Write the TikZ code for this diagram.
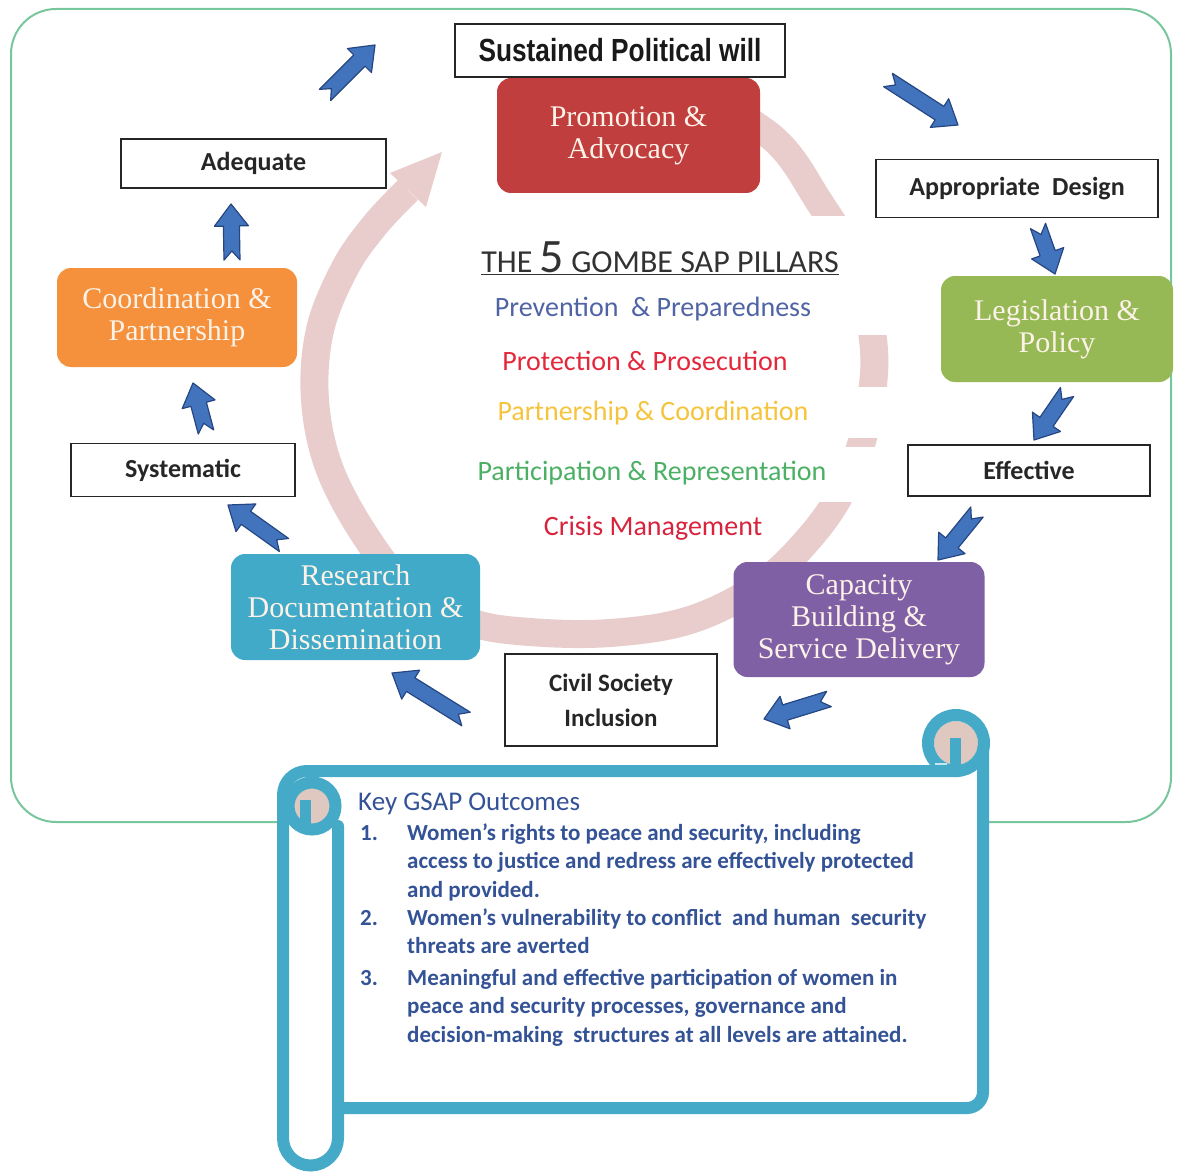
\documentclass[tikz,border=0pt]{standalone}
\usepackage{fontspec}
\setmainfont{Liberation Serif}
\newfontfamily\calibri{Carlito}
\newfontfamily\arialnarrow[FakeStretch=0.82]{Liberation Sans}
\usetikzlibrary{calc}
\definecolor{promored}{RGB}{192,62,62}
\definecolor{coordorange}{RGB}{245,145,60}
\definecolor{legisgreen}{RGB}{150,185,85}
\definecolor{researchteal}{RGB}{65,170,200}
\definecolor{capacpurple}{RGB}{128,96,165}
\definecolor{boxtext}{RGB}{252,242,232}
\definecolor{ringpink}{RGB}{233,205,205}
\definecolor{arrowfill}{RGB}{66,116,190}
\definecolor{arrowline}{RGB}{38,70,130}
\definecolor{bordergreen}{RGB}{120,198,155}
\definecolor{scrollcol}{RGB}{68,170,200}
\definecolor{curlfill}{RGB}{222,200,192}
\definecolor{outcol}{RGB}{52,82,150}
\definecolor{titlegray}{RGB}{50,50,50}
\definecolor{prevcol}{RGB}{80,100,165}
\definecolor{protcol}{RGB}{228,40,60}
\definecolor{partcol}{RGB}{245,195,60}
\definecolor{particol}{RGB}{75,175,100}
\definecolor{crisiscol}{RGB}{215,35,60}
\newcommand{\blockarr}[2]{%
  \draw[blockarrow] ($(#1)!8pt!90:(#2)$) -- ($(#2)!22pt!(#1)!8pt!-90:(#1)$)
    -- ($(#2)!22pt!(#1)!17pt!-90:(#1)$) -- (#2)
    -- ($(#2)!22pt!(#1)!17pt!90:(#1)$) -- ($(#2)!22pt!(#1)!8pt!90:(#1)$)
    -- ($(#1)!8pt!-90:(#2)$) -- ($(#1)!9pt!(#2)$) -- cycle;}
\begin{document}
\begin{tikzpicture}[x=1pt,y=-1pt,
  pillar/.style={rounded corners=14pt, text=boxtext, font=\fontsize{30}{32}\selectfont, align=center, inner sep=0pt},
  lbl/.style={draw=black!85, line width=1.8pt, fill=white, text=black!85, font=\calibri\bfseries\fontsize{26}{35}\selectfont, align=center, inner sep=0pt},
  blockarrow/.style={fill=arrowfill, draw=arrowline, line width=1.2pt, line join=round},
  scroll/.style={draw=scrollcol, line width=12pt, line cap=round},
  pill/.style={font=\calibri\fontsize{28}{30}\selectfont, inner sep=0pt},
  outtxt/.style={text=outcol, font=\calibri\bfseries\fontsize{23}{28}\selectfont, inner sep=0pt, anchor=base west},
  outtitle/.style={text=outcol, font=\calibri\fontsize{27}{30}\selectfont, inner sep=0pt, anchor=base west}]
\useasboundingbox (0,0) rectangle (1177,1174);
% outer frame
\draw[bordergreen, line width=2pt, rounded corners=45pt] (11,9) rectangle (1171,822);
% circular arrow
\draw[ringpink, line width=28pt] plot[smooth, tension=0.6] coordinates {
 (700,92) (775,140) (818,200) (855,265) (874,350) (866,425) (845,485) (812,535)
 (760,585) (690,620) (610,633) (530,632) (470,622) (410,590) (368,540) (330,470)
 (315,400) (320,330) (345,268) (375,225) (408,190)};
\fill[ringpink] (426,207) -- (442,152) -- (390,173) -- cycle;
\fill[white] (790,216) rectangle (900,335);
\fill[white] (790,387) rectangle (900,438);
\fill[white] (790,447) rectangle (900,502);
% pillar boxes
\node[pillar, fill=promored, minimum width=263pt, minimum height=115pt] (promo) at (628.5,135.5) {Promotion \&\\Advocacy};
\node[pillar, fill=coordorange, minimum width=240pt, minimum height=99pt] (coord) at (177,317.5) {Coordination \&\\Partnership};
\node[pillar, fill=legisgreen, minimum width=232pt, minimum height=106pt] (legis) at (1057,329) {Legislation \&\\Policy};
\node[pillar, fill=researchteal, minimum width=249pt, minimum height=106pt] (resea) at (355.5,607) {Research\\Documentation \&\\Dissemination};
\node[pillar, fill=capacpurple, minimum width=251pt, minimum height=115pt] (capac) at (859,619.5) {Capacity\\Building \&\\Service Delivery};
% label boxes
\node[lbl, minimum width=330pt, minimum height=53pt, font=\arialnarrow\bfseries\fontsize{32}{36}\selectfont, text=black!90] (sust) at (620,50.5) {Sustained Political will};
\node[lbl, minimum width=265pt, minimum height=49pt] (adeq) at (253.5,163.5) {Adequate};
\node[lbl, minimum width=282pt, minimum height=58pt] (appr) at (1017,188.5) {Appropriate\hspace{0.25em} Design};
\node[lbl, minimum width=224pt, minimum height=53pt] (syst) at (183,470) {Systematic};
\node[lbl, minimum width=242pt, minimum height=51pt] (effec) at (1029,470.5) {Effective};
\node[lbl, minimum width=212pt, minimum height=92pt, font=\calibri\bfseries\fontsize{25}{35}\selectfont] (civil) at (611,700) {Civil Society\\Inclusion};
% centre text
\node[pill, text=titlegray, font=\calibri\fontsize{32}{36}\selectfont] (title) at (660,258) {\underline{THE {\fontsize{48}{50}\selectfont 5} GOMBE SAP PILLARS}};
\node[pill, text=prevcol] (prev) at (653,309) {Prevention\ \ \& Preparedness};
\node[pill, text=protcol] (prot) at (645,361) {Protection \& Prosecution};
\node[pill, text=partcol] (part) at (653,413) {Partnership \& Coordination};
\node[pill, text=particol] (parti) at (652,473) {Participation \& Representation};
\node[pill, text=crisiscol] (crisis) at (653,528) {Crisis Management};
% blue arrows
\coordinate (a1t) at (325,95);   \coordinate (a1h) at (375,45);
\coordinate (a2t) at (888,80);   \coordinate (a2h) at (958,125);
\coordinate (a3t) at (1038,226); \coordinate (a3h) at (1055,274);
\coordinate (a4t) at (1067,392); \coordinate (a4h) at (1034,440);
\coordinate (a5t) at (977,512);  \coordinate (a5h) at (938,560);
\coordinate (a6t) at (829,699);  \coordinate (a6h) at (764,719);
\coordinate (a7t) at (466,719);  \coordinate (a7h) at (392,673);
\coordinate (a8t) at (284,545);  \coordinate (a8h) at (228,505);
\coordinate (a9t) at (206,432);  \coordinate (a9h) at (193,383);
\coordinate (a10t) at (232,260); \coordinate (a10h) at (231,204);
\blockarr{a1t}{a1h}
\blockarr{a2t}{a2h}
\blockarr{a3t}{a3h}
\blockarr{a4t}{a4h}
\blockarr{a5t}{a5h}
\blockarr{a6t}{a6h}
\blockarr{a7t}{a7h}
\blockarr{a8t}{a8h}
\blockarr{a9t}{a9h}
\blockarr{a10t}{a10h}
% scroll
\fill[white] (283,1138) -- (283,771) -- (983,771) -- (983,1108) -- (338,1108) -- (338,1138)
  arc[start angle=0, end angle=180, radius=27.5] -- cycle;
\draw[scroll] (338,826) -- (338,1138) arc[start angle=0, end angle=180, radius=27.5] -- (283,1000);
\draw[scroll, rounded corners=24pt] (283,1000) -- (283,771) -- (958,771);
\draw[scroll, rounded corners=16pt] (983,743) -- (983,1108) -- (338,1108);
\fill[curlfill] (312,806) circle[radius=18];
\fill[scrollcol] (300,800) rectangle (311,830);
\draw[scroll] (312,806) circle[radius=23.5];
\fill[curlfill] (956,743) circle[radius=22];
\fill[scrollcol] (950,738) rectangle (961,771);
\draw[scroll] (956,743) circle[radius=28];
\draw[white!70!scrollcol, line width=2pt] (935,764) -- (947,764);
% outcomes
\node[outtitle] (keyt) at (358,810) {Key GSAP Outcomes};
\node[outtxt] (n1) at (360,840) {1.};
\node[outtxt] (l1) at (407,840) {Women’s rights to peace and security, including};
\node[outtxt] (l2) at (407,868.5) {access to justice and redress are effectively protected};
\node[outtxt] (l3) at (407,897) {and provided.};
\node[outtxt] (n2) at (360,925) {2.};
\node[outtxt] (l4) at (407,925) {Women’s vulnerability to conflict\ \ and human\ \ security};
\node[outtxt] (l5) at (407,953.5) {threats are averted};
\node[outtxt] (n3) at (360,985) {3.};
\node[outtxt] (l6) at (407,985) {Meaningful and effective participation of women in};
\node[outtxt] (l7) at (407,1013.5) {peace and security processes, governance and};
\node[outtxt] (l8) at (407,1042) {decision-making\ \ structures at all levels are attained.};
\end{tikzpicture}
\end{document}
